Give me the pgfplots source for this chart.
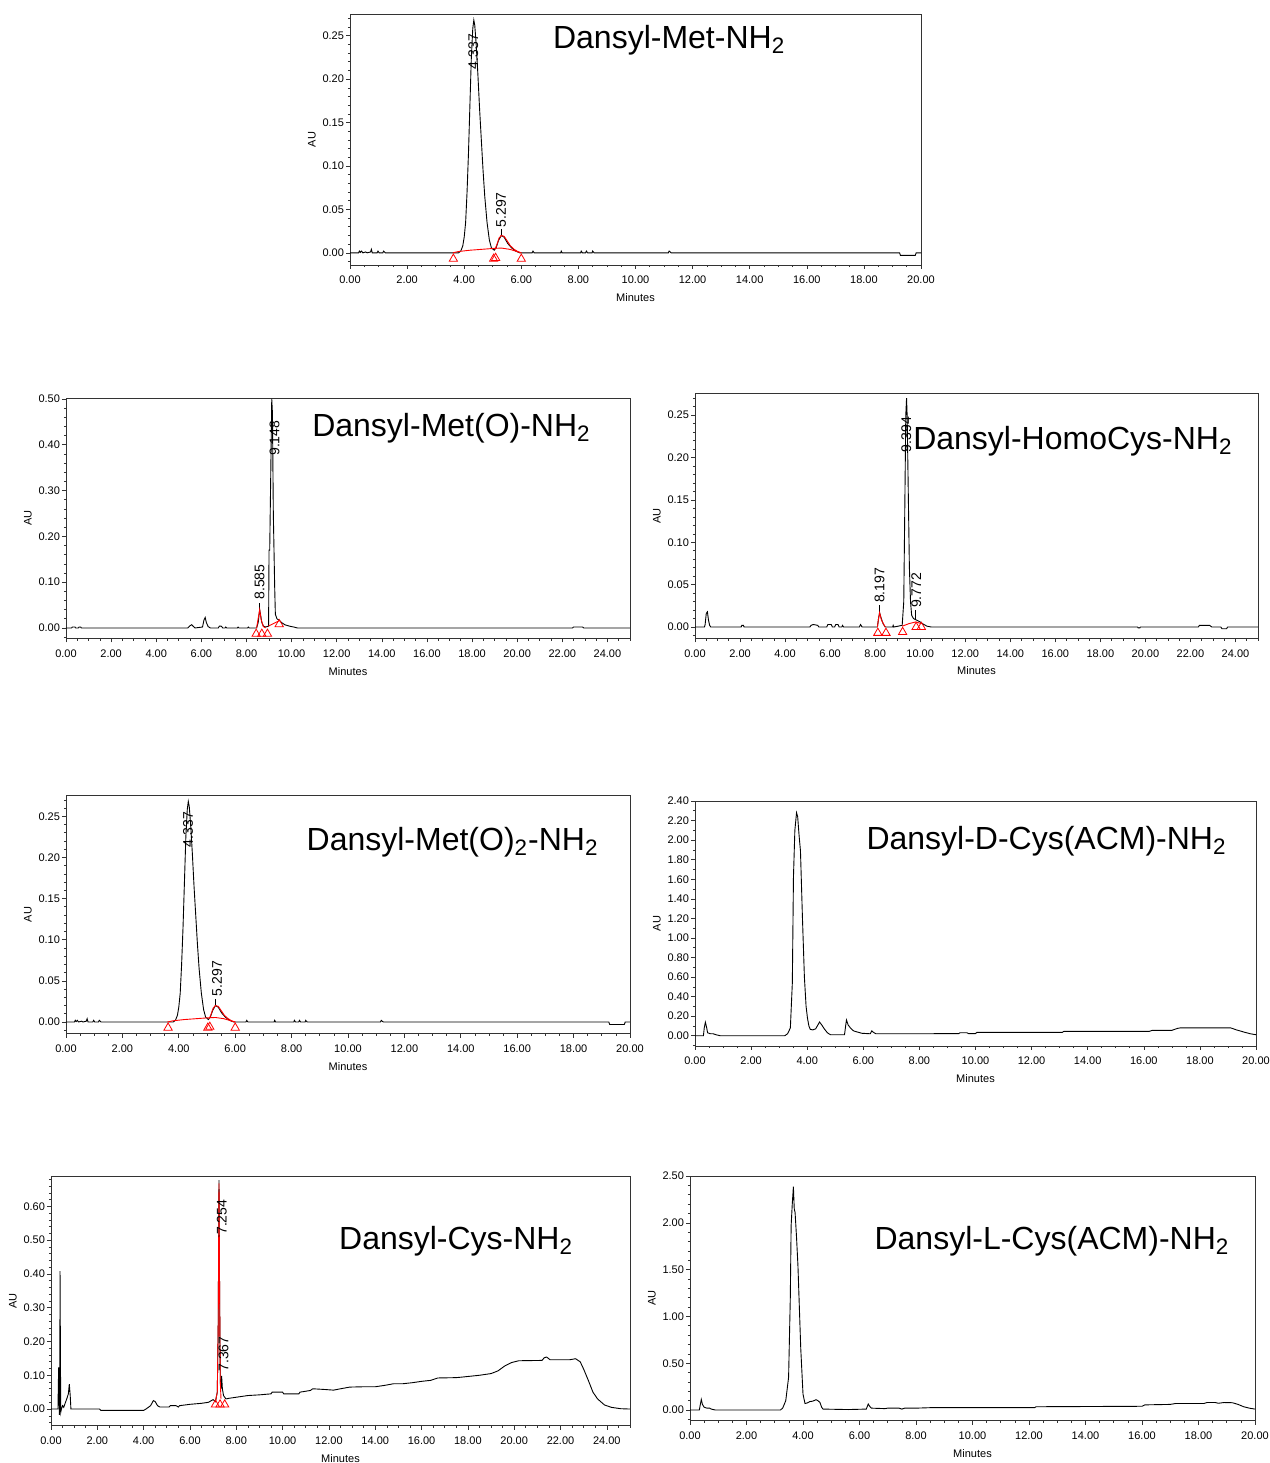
\documentclass[border=0pt]{standalone}
\usepackage{pgfplots}
\pgfplotsset{compat=1.18}
\usepackage{pgfplotstable}
\usepackage{fontspec}
\setmainfont{Liberation Sans}

\pgfplotsset{
  chrom/.style={
    scale only axis, anchor=south west,
    axis line style={black!80, line width=0.4pt},
    tick align=outside, xtick pos=bottom, ytick pos=left,
    major tick length=2pt, minor tick length=1.1pt,
    every tick/.style={black!80, line width=0.3pt},
    minor x tick num=3, minor y tick num=4,
    xtick distance=2, scaled ticks=false,
    /pgf/number format/assume math mode=true,
    tick label style={font=\fontsize{5.5}{6}\selectfont,
      /pgf/number format/fixed, /pgf/number format/fixed zerofill,
      /pgf/number format/precision=2, /pgf/number format/assume math mode=true},
    yticklabel style={xshift=2.5pt},
    label style={font=\fontsize{5.5}{6}\selectfont},
    xlabel={Minutes}, ylabel={AU},
    xlabel style={yshift=2pt}, ylabel style={yshift=-3.5pt},
  },
  tr/.style={black, line width=0.45pt, mark=none},
  rd/.style={red, line width=0.45pt, mark=none},
  tri/.style={red, only marks, mark=triangle, mark size=2.4pt, mark options={line width=0.4pt}},
}
\tikzset{
  ttl/.style={anchor=west, inner sep=0pt, font=\fontsize{16}{18}\selectfont},
  pl/.style={rotate=90, anchor=west, inner sep=0pt, font=\fontsize{7}{8}\selectfont},
}

% Dansyl-Met-NH2 and Dansyl-Met(O)2-NH2 share the same trace
\pgfplotstableread{
t au
0 0
0.30 0
0.33 0.002
0.36 0.0005
0.40 0.002
0.45 0
0.55 0.001
0.60 0
0.72 0.001
0.75 0.004
0.78 0
0.95 0
0.98 0.002
1.02 0
1.15 0
1.18 0.002
1.24 0
3.80 0
3.88 0.002
3.95 0.008
4.00 0.018
4.05 0.035
4.10 0.070
4.15 0.115
4.20 0.170
4.25 0.225
4.30 0.258
4.337 0.268
4.37 0.262
4.42 0.240
4.48 0.205
4.54 0.165
4.60 0.130
4.66 0.095
4.72 0.065
4.80 0.035
4.88 0.015
4.95 0.006
5.05 0.003
5.12 0.006
5.20 0.014
5.297 0.020
5.40 0.018
5.52 0.011
5.65 0.006
5.80 0.002
5.95 0
6.38 0
6.41 0.002
6.45 0
7.38 0
7.40 0.002
7.43 0
8.08 0
8.10 0.002
8.14 0
8.25 0
8.28 0.002
8.32 0
8.48 0
8.50 0.002
8.55 0
11.15 0
11.18 0.002
11.25 0
19.25 0
19.28 -0.003
19.80 -0.003
19.83 0
20 0
}\metblack
\pgfplotstableread{
t au
5.08 0.004
5.15 0.010
5.22 0.017
5.30 0.020
5.40 0.019
5.50 0.014
5.62 0.008
5.75 0.004
5.90 0.001
6.00 0
}\metredpeak
\pgfplotstableread{
t au
3.60 0
3.80 0.0015
4.20 0.003
4.60 0.004
5.00 0.005
5.30 0.0055
5.60 0.004
6.00 0
}\metredbase
\pgfplotstableread{
t au
3.62 -0.007
5.03 -0.007
5.10 -0.006
6.00 -0.007
}\mettri

\begin{document}
\begin{tikzpicture}
\path[use as bounding box] (0,0) rectangle (635pt,731.5pt);

% ---------- Dansyl-Met-NH2 ----------
\begin{axis}[chrom, at={(175pt,599pt)}, width=285.5pt, height=125.5pt,
  xmin=0, xmax=20, ymin=-0.014, ymax=0.275, ytick distance=0.05]
\addplot[tr] table[x=t,y=au] {\metblack};
\addplot[tr] coordinates {(5.297,0.020) (5.297,0.028)};
\addplot[rd] table[x=t,y=au] {\metredbase};
\addplot[rd] table[x=t,y=au] {\metredpeak};
\addplot[tri] table[x=t,y=au] {\mettri};
\node[pl] at (axis cs:4.32,0.211) {4.337};
\node[pl] at (axis cs:5.29,0.029) {5.297};
\node[ttl] at (rel axis cs:0.355,0.896) {Dansyl-Met-NH\textsubscript{2}};
\end{axis}

% ---------- Dansyl-Met(O)-NH2 ----------
\begin{axis}[chrom, at={(33pt,412.25pt)}, width=282pt, height=120.25pt,
  xmin=0, xmax=25, ymin=-0.023, ymax=0.502, ytick distance=0.1]
\addplot[tr] coordinates {
(0,0) (0.25,0) (0.28,0.002) (0.40,0.002) (0.43,0) (0.55,0) (0.58,0.002) (0.65,0.002) (0.68,0)
(5.40,0) (5.50,0.005) (5.57,0.007) (5.65,0.003) (5.72,0) (6.05,0.002) (6.12,0.018) (6.17,0.023)
(6.22,0.012) (6.30,0.003) (6.40,0) (6.75,0) (6.80,0.004) (6.88,0.004) (6.95,0) (7.05,0) (7.08,0.002)
(7.12,0) (7.60,0) (7.63,0.002) (7.67,0) (8.05,0) (8.08,0.002) (8.12,0) (8.45,0) (8.52,0.012)
(8.585,0.040) (8.62,0.030) (8.68,0.012) (8.75,0.004) (8.85,0.002) (8.98,0.004) (9.00,0.17)
(9.03,0.17) (9.08,0.35) (9.12,0.50) (9.15,0.47) (9.19,0.25) (9.25,0.09) (9.28,0.03) (9.35,0.020)
(9.45,0.017) (9.55,0.012) (9.70,0.007) (9.90,0.004) (10.10,0.002) (10.25,0) (22.45,0) (22.50,0.002)
(22.90,0.002) (22.95,0) (25,0)};
\addplot[tr] coordinates {(8.585,0.040) (8.585,0.055)};
\addplot[rd] coordinates {(8.45,0) (8.55,0.030) (8.585,0.040) (8.65,0.018) (8.75,0.003) (8.85,0)};
\addplot[rd] coordinates {(8.97,0.004) (9.46,0.016)};
\addplot[tri] coordinates {(8.43,-0.013) (8.68,-0.013) (8.93,-0.013) (9.45,0.008)};
\node[pl] at (axis cs:8.58,0.061) {8.585};
\node[pl] at (axis cs:9.24,0.375) {9.148};
\node[ttl] at (rel axis cs:0.436,0.875) {Dansyl-Met(O)-NH\textsubscript{2}};
\end{axis}

% ---------- Dansyl-HomoCys-NH2 ----------
\begin{axis}[chrom, at={(347.5pt,412.3pt)}, width=281.5pt, height=122.5pt,
  xmin=0, xmax=25, ymin=-0.0134, ymax=0.2757, ytick distance=0.05]
\addplot[tr] coordinates {
(0,0) (0.42,0) (0.45,0.003) (0.50,0.016) (0.55,0.018) (0.60,0.008) (0.65,0.002) (0.70,0)
(2.05,0) (2.08,0.002) (2.15,0.002) (2.18,0) (5.10,0) (5.15,0.002) (5.25,0.003) (5.45,0.002)
(5.50,0) (5.85,0) (5.90,0.003) (6.05,0.003) (6.10,0) (6.20,0) (6.25,0.003) (6.35,0.003) (6.40,0)
(6.52,0) (6.55,0.002) (6.60,0) (7.30,0) (7.35,0.003) (7.42,0) (8.10,0) (8.15,0.010) (8.197,0.017)
(8.25,0.012) (8.35,0.004) (8.45,0) (8.78,0) (8.80,0.002) (8.83,0) (9.20,0.002) (9.27,0.03)
(9.32,0.15) (9.36,0.25) (9.394,0.270) (9.42,0.25) (9.47,0.16) (9.52,0.07) (9.57,0.03) (9.62,0.014)
(9.70,0.010) (9.772,0.009) (9.85,0.008) (10.0,0.006) (10.1,0.004) (10.3,0.001) (10.5,0)
(19.65,0) (19.68,-0.001) (19.75,-0.001) (19.78,0) (22.35,0) (22.40,0.002) (22.85,0.002) (22.95,0)
(23.35,0) (23.40,-0.002) (23.60,-0.002) (23.65,0) (25,0)};
\addplot[tr] coordinates {(8.197,0.017) (8.197,0.026)};
\addplot[tr] coordinates {(9.772,0.009) (9.772,0.020)};
\addplot[rd] coordinates {(8.10,0) (8.15,0.010) (8.197,0.017) (8.28,0.008) (8.45,0)};
\addplot[rd] coordinates {(9.20,0.001) (9.50,0.004) (9.80,0.006) (10.05,0.004)};
\addplot[tri] coordinates {(8.12,-0.007) (8.48,-0.007) (9.22,-0.006) (9.82,0.0) (10.05,0.0)};
\node[pl] at (axis cs:8.2,0.028) {8.197};
\node[pl] at (axis cs:9.38,0.206) {9.394};
\node[pl] at (axis cs:9.83,0.022) {9.772};
\node[ttl] at (rel axis cs:0.387,0.806) {Dansyl-HomoCys-NH\textsubscript{2}};
\end{axis}

% ---------- Dansyl-Met(O)2-NH2 ----------
\begin{axis}[chrom, at={(33pt,214.65pt)}, width=282pt, height=119pt,
  xmin=0, xmax=20, ymin=-0.0142, ymax=0.275, ytick distance=0.05]
\addplot[tr] table[x=t,y=au] {\metblack};
\addplot[tr] coordinates {(5.297,0.020) (5.297,0.028)};
\addplot[rd] table[x=t,y=au] {\metredbase};
\addplot[rd] table[x=t,y=au] {\metredpeak};
\addplot[tri] table[x=t,y=au] {\mettri};
\node[pl] at (axis cs:4.33,0.212) {4.337};
\node[pl] at (axis cs:5.36,0.031) {5.297};
\node[ttl] at (rel axis cs:0.426,0.805) {Dansyl-Met(O)\textsubscript{2}-NH\textsubscript{2}};
\end{axis}

% ---------- Dansyl-D-Cys(ACM)-NH2 ----------
\begin{axis}[chrom, at={(347.5pt,208.5pt)}, width=280.5pt, height=122.5pt,
  xmin=0, xmax=20, ymin=-0.105, ymax=2.40, ytick distance=0.2, minor y tick num=1]
\addplot[tr] coordinates {
(0,0) (0.30,0) (0.33,0.08) (0.37,0.138) (0.41,0.09) (0.45,0.03) (0.55,0.02) (0.65,0.02) (0.75,0.01)
(0.90,0.0) (3.20,0) (3.30,0.02) (3.40,0.08) (3.47,0.54) (3.51,1.62) (3.56,2.10) (3.62,2.28)
(3.66,2.24) (3.71,2.05) (3.76,1.89) (3.83,1.21) (3.90,0.60) (3.96,0.30) (4.01,0.18) (4.06,0.10)
(4.11,0.065) (4.20,0.06) (4.30,0.07) (4.38,0.11) (4.44,0.14) (4.52,0.11) (4.61,0.07) (4.72,0.03)
(4.83,0.01) (5.33,0.01) (5.37,0.10) (5.40,0.16) (5.46,0.11) (5.54,0.08) (5.65,0.05) (5.76,0.04)
(5.95,0.025) (6.25,0.02) (6.30,0.05) (6.36,0.035) (6.45,0.02) (8.0,0.02) (9.4,0.022) (9.45,0.03)
(9.7,0.03) (9.75,0.022) (10.0,0.022) (10.05,0.035) (13.1,0.035) (13.15,0.045) (16.2,0.045)
(16.3,0.055) (17.0,0.055) (17.2,0.075) (17.3,0.08) (19.1,0.08) (19.3,0.06) (19.6,0.035)
(19.8,0.02) (20,0.01)};
\node[ttl] at (rel axis cs:0.305,0.837) {Dansyl-D-Cys(ACM)-NH\textsubscript{2}};
\end{axis}

% ---------- Dansyl-Cys-NH2 ----------
\begin{axis}[chrom, at={(25.5pt,18.7pt)}, width=289.5pt, height=124.8pt,
  xmin=0, xmax=25, ymin=-0.049, ymax=0.690, ytick distance=0.1]
\addplot[tr] coordinates {
(0,0) (0.30,0) (0.33,0.123) (0.36,-0.017) (0.38,0.0) (0.39,0.408) (0.42,-0.01) (0.45,0.0)
(0.50,0.010) (0.55,0.005) (0.60,0.015) (0.68,0.030) (0.75,0.045) (0.79,0.074) (0.83,0.04)
(0.86,0.0) (2.10,0) (2.15,-0.004) (4.00,-0.004) (4.10,0.0) (4.30,0.010) (4.42,0.025) (4.50,0.022)
(4.60,0.010) (4.70,0.006) (5.10,0.006) (5.15,0.010) (5.40,0.010) (5.50,0.006) (5.55,0.010)
(6.00,0.014) (6.50,0.017) (6.80,0.020) (7.00,0.028) (7.10,0.022) (7.18,0.05) (7.22,0.25)
(7.254,0.678) (7.28,0.35) (7.31,0.08) (7.34,0.06) (7.367,0.098) (7.40,0.06) (7.45,0.04)
(7.55,0.030) (7.70,0.032) (8.00,0.035) (8.50,0.040) (9.00,0.042) (9.50,0.045) (9.55,0.050)
(10.0,0.050) (10.05,0.045) (10.70,0.045) (10.75,0.050) (11.20,0.055) (11.30,0.060) (11.80,0.058)
(12.20,0.056) (12.50,0.060) (12.90,0.065) (13.50,0.066) (14.00,0.066) (14.40,0.070) (14.80,0.075)
(15.20,0.075) (15.60,0.078) (16.00,0.082) (16.40,0.085) (16.70,0.092) (17.50,0.093) (17.80,0.095)
(18.50,0.100) (19.00,0.105) (19.30,0.113) (19.60,0.128) (19.90,0.138) (20.20,0.143) (21.20,0.144)
(21.30,0.152) (21.40,0.154) (21.55,0.146) (22.40,0.146) (22.65,0.149) (22.85,0.140) (23.00,0.118)
(23.20,0.085) (23.40,0.050) (23.60,0.030) (23.90,0.012) (24.20,0.005) (24.60,0.001) (25.00,0.0)};
\addplot[rd] coordinates {(7.10,0.022) (7.18,0.05) (7.22,0.25) (7.254,0.668) (7.28,0.35) (7.31,0.08) (7.34,0.03)};
\addplot[tri] coordinates {(7.10,0.013) (7.30,0.013) (7.50,0.013)};
\node[pl] at (axis cs:7.38,0.515) {7.254};
\node[pl] at (axis cs:7.45,0.110) {7.367};
\node[ttl] at (rel axis cs:0.497,0.74) {Dansyl-Cys-NH\textsubscript{2}};
\end{axis}

% ---------- Dansyl-L-Cys(ACM)-NH2 ----------
\begin{axis}[chrom, at={(345pt,21.2pt)}, width=282.5pt, height=122.3pt,
  xmin=0, xmax=20, ymin=-0.113, ymax=2.50, ytick distance=0.5]
\addplot[tr] coordinates {
(0,0) (0.33,0) (0.36,0.05) (0.40,0.113) (0.44,0.06) (0.50,0.03) (0.60,0.02) (0.70,0.02) (0.75,0.01)
(0.90,0.0) (3.20,0.0) (3.28,0.02) (3.39,0.10) (3.49,0.35) (3.55,1.19) (3.58,1.97) (3.62,2.20)
(3.66,2.387) (3.69,2.15) (3.72,2.11) (3.77,1.85) (3.82,1.55) (3.92,0.66) (4.00,0.17) (4.07,0.07)
(4.15,0.075) (4.24,0.09) (4.35,0.095) (4.46,0.11) (4.53,0.10) (4.60,0.08) (4.66,0.03) (4.71,0.01)
(5.60,0.005) (6.24,0.01) (6.31,0.064) (6.36,0.04) (6.42,0.02) (6.90,0.015) (7.00,0.02) (7.40,0.02)
(7.50,0.01) (7.60,0.02) (8.00,0.02) (8.50,0.025) (12.20,0.025) (12.25,0.035) (16.00,0.040)
(16.10,0.055) (17.00,0.060) (17.20,0.070) (18.20,0.070) (18.30,0.080) (18.60,0.080) (18.70,0.072)
(18.90,0.080) (19.20,0.078) (19.40,0.060) (19.60,0.035) (19.80,0.020) (20.00,0.010)};
\node[ttl] at (rel axis cs:0.326,0.734) {Dansyl-L-Cys(ACM)-NH\textsubscript{2}};
\end{axis}
\end{tikzpicture}
\end{document}
